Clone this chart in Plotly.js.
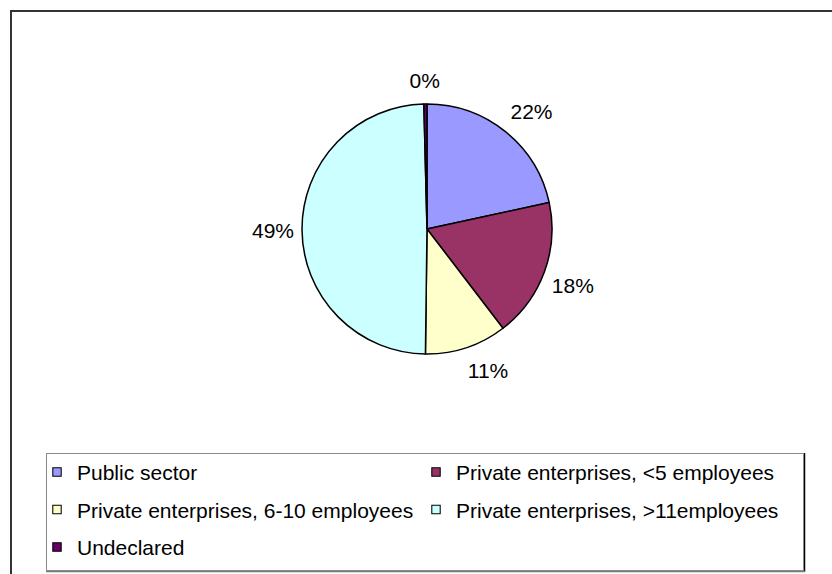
<!DOCTYPE html>
<html>
<head>
<meta charset="utf-8">
<script src="https://cdn.plot.ly/plotly-3.0.1.min.js"></script>
<style>
  html, body { margin: 0; padding: 0; background: #fff; }
  #chart { width: 832px; height: 574px; }
</style>
</head>
<body>
<div id="chart"></div>
<script>
// Categories and shares (percent of total)
const categories = [
  "Public sector",
  "Private enterprises, <5 employees",
  "Private enterprises, 6-10 employees",
  "Private enterprises, >11employees",
  "Undeclared"
];
const shares = [21.6, 18.0, 10.6, 49.4, 0.4];
const sliceColors = ["#9999FF", "#993366", "#FFFFCC", "#CCFFFF", "#660066"];

const W = 832, H = 574;
// pie placement (pixels)
const cx = 427, cy = 229, R = 125;
const LABEL_GAP_X = 8, LABEL_GAP_Y = 16;
const FONT_SIZE = 21;
// legend box (pixels)
const LEG = { left: 46, top: 453, width: 758, height: 118, rowStep: 37.5, colStep: 379 };

const trace = {
  type: "pie",
  labels: categories,
  values: shares,
  sort: false,
  direction: "clockwise",
  rotation: 0,
  marker: { colors: sliceColors, line: { color: "#000000", width: 1.5 } },
  textposition: "outside",
  texttemplate: "%{percent:.0%}",
  textfont: { family: "Liberation Sans, Arial, sans-serif", size: FONT_SIZE, color: "#000000" },
  hoverinfo: "none",
  domain: {
    x: [(cx - R) / W, (cx + R) / W],
    y: [(H - cy - R) / H, (H - cy + R) / H]
  }
};

const layout = {
  width: W,
  height: H,
  margin: { l: 0, r: 0, t: 0, b: 0 },
  paper_bgcolor: "#ffffff",
  plot_bgcolor: "#ffffff",
  showlegend: true,
  legend: {
    orientation: "h",
    x: LEG.left / W,
    xanchor: "left",
    y: 1 - LEG.top / H,
    yanchor: "top",
    entrywidth: 335,
    entrywidthmode: "pixels",
    bordercolor: "#8a8a8a",
    borderwidth: 1,
    bgcolor: "#ffffff",
    traceorder: "normal",
    font: { family: "Liberation Sans, Arial, sans-serif", size: FONT_SIZE, color: "#000000" }
  },
  shapes: [
    {
      type: "rect", xref: "paper", yref: "paper",
      x0: 11 / W, x1: 1.2, y0: -0.2, y1: 1 - 11 / H,
      line: { color: "#333333", width: 2 },
      fillcolor: "rgba(0,0,0,0)",
      layer: "below"
    },
    { // legend right edge (dark)
      type: "line", xref: "paper", yref: "paper",
      x0: (LEG.left + LEG.width + 0.5) / W, x1: (LEG.left + LEG.width + 0.5) / W,
      y0: 1 - LEG.top / H, y1: 1 - (LEG.top + LEG.height + 1) / H,
      line: { color: "#000000", width: 1.5 }
    },
    { // legend bottom shadow
      type: "line", xref: "paper", yref: "paper",
      x0: LEG.left / W, x1: (LEG.left + LEG.width + 1) / W,
      y0: 1 - (LEG.top + LEG.height + 0.5) / H, y1: 1 - (LEG.top + LEG.height + 0.5) / H,
      line: { color: "#7a7a7a", width: 1.5 }
    }
  ]
};

Plotly.newPlot("chart", [trace], layout, { displayModeBar: false, staticPlot: true }).then(function () {
  var svgRect = document.querySelector("#chart .main-svg").getBoundingClientRect();

  // Excel-style outside labels: nearest edge/corner of the label on the slice's mid-angle ray
  var total = shares.reduce(function (a, b) { return a + b; }, 0);
  var cum = 0;
  var slices = document.querySelectorAll(".slice");
  shares.forEach(function (v, i) {
    var mid = (cum + v / 2) / total * 2 * Math.PI;
    cum += v;
    var sl = slices[i];
    if (!sl) return;
    var st = sl.querySelector(".slicetext");
    if (!st) return;
    var bb = st.getBoundingClientRect();
    var curX = bb.left + bb.width / 2 - svgRect.left;
    var curY = bb.top + bb.height / 2 - svgRect.top;
    var s = Math.sin(mid), c = Math.cos(mid);
    var ax = cx + (R + LABEL_GAP_X) * s;
    var ay = cy - (R + LABEL_GAP_Y) * c;
    var clamp = function (t) { return Math.max(-1, Math.min(1, t)); };
    var w = bb.width, h = FONT_SIZE * 0.716;
    var tx = ax + clamp(3 * s) * w / 2;
    var ty = ay + clamp(-3 * c) * h / 2;
    var prev = st.getAttribute("transform") || "";
    st.setAttribute("transform", "translate(" + (tx - curX) + "," + (ty - curY) + ") " + prev);
  });

  // Excel-like legend geometry: smaller swatches, two columns, wider row spacing
  document.querySelectorAll(".legendpoints path").forEach(function (p) {
    p.setAttribute("transform", "translate(20,0) scale(0.7)");
  });
  var items = Array.prototype.slice.call(document.querySelectorAll(".legend .traces"));
  items.forEach(function (g, i) {
    var col = i % 2, row = Math.floor(i / 2);
    g.setAttribute("transform", "translate(" + (-9 + col * LEG.colStep) + "," + (19 + row * LEG.rowStep) + ")");
  });
  var bg = document.querySelector(".legend rect.bg");
  if (bg) {
    bg.setAttribute("width", LEG.width - 1);
    bg.setAttribute("height", LEG.height - 1);
  }
  var sb = document.querySelector(".legend .scrollbox");
  if (sb) sb.removeAttribute("clip-path");
});
</script>
</body>
</html>
